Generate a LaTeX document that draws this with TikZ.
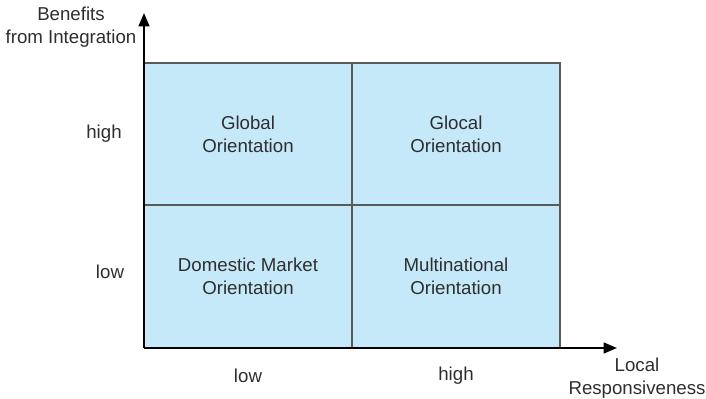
\documentclass[tikz,border=0pt]{standalone}
\usepackage{fontspec}
\setmainfont{Liberation Sans}
\usetikzlibrary{arrows.meta}
\definecolor{quadfill}{HTML}{C6E9F9}
\definecolor{txt}{HTML}{2E2E2E}
\definecolor{quadline}{HTML}{5A5A5A}
\tikzset{
  quad/.style={draw=quadline, line width=0.9pt, fill=quadfill, minimum width=156pt, minimum height=106.5pt, inner sep=0pt, align=center, text=txt, font=\fontsize{14}{17.5}\selectfont},
  lbl/.style={text=txt, align=center, font=\fontsize{14}{17.5}\selectfont, inner sep=0pt},
  axis/.style={line width=1.6pt, draw=black, -{Triangle[length=10pt, width=8pt]}}
}
\begin{document}
\begin{tikzpicture}[x=0.75pt, y=-0.75pt]
\useasboundingbox (0,0) rectangle (706,399);
\node[quad] (gl) at (248,134) {Global\\Orientation};
\node[quad] (gc) at (456,134) {Glocal\\Orientation};
\node[quad] (dm) at (248,276.5) {Domestic Market\\Orientation};
\node[quad] (mn) at (456,276.5) {Multinational\\Orientation};
\coordinate (o) at (144,348);
\coordinate (ytip) at (144,13);
\coordinate (xtip) at (617,348);
\draw[axis] (o) -- (ytip);
\draw[axis] (o) -- (xtip);
\node[lbl] (yl) at (71,27.5) {Benefits\\from Integration};
\node[lbl] (xl) at (637,378) {Local\\Responsiveness};
\node[lbl] (yh) at (104,134) {high};
\node[lbl] (ylo) at (110,272) {low};
\node[lbl] (xlo) at (248,376) {low};
\node[lbl] (xh) at (456,376) {high};
\end{tikzpicture}
\end{document}
